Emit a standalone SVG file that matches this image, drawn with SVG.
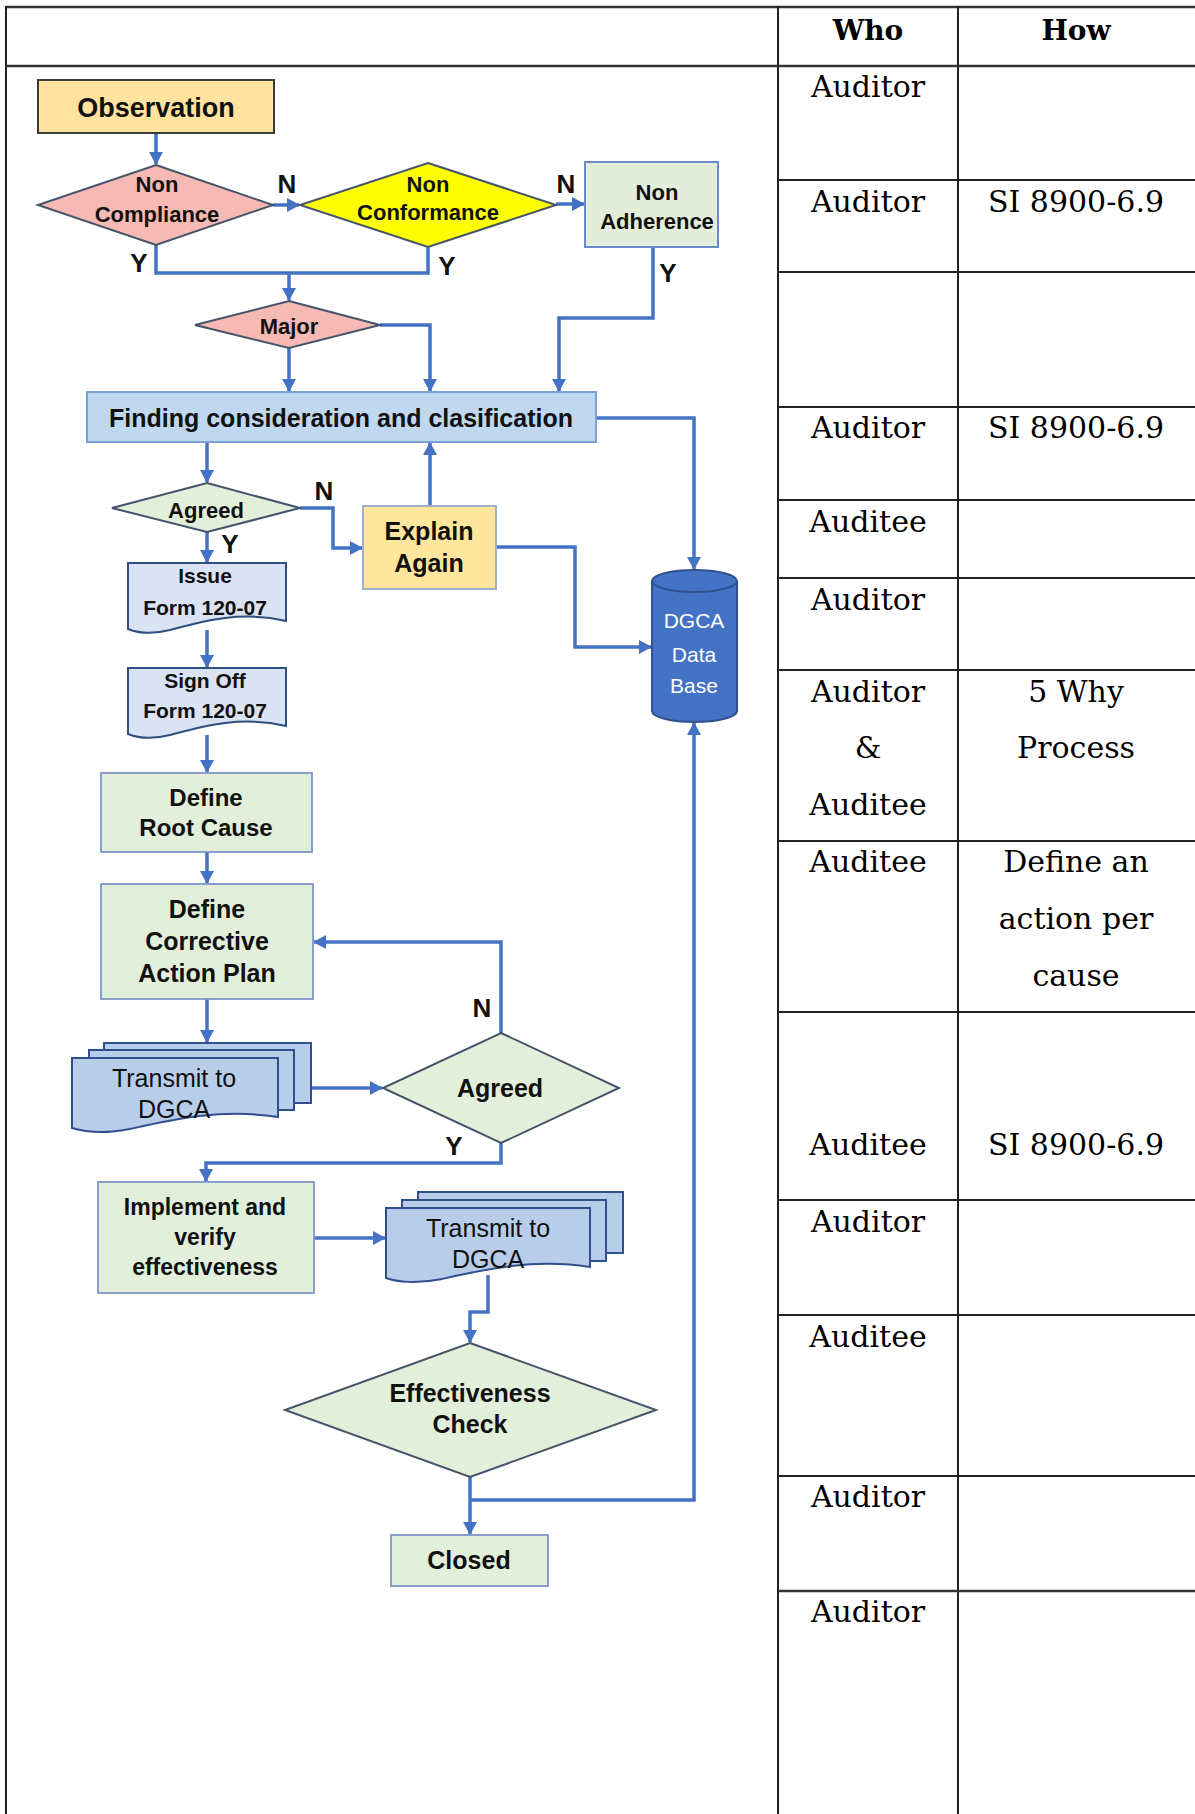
<svg xmlns="http://www.w3.org/2000/svg" width="1195" height="1814" viewBox="0 0 1195 1814">
<style>
.tl{stroke:#222;stroke-width:2;fill:none}
.tl2{stroke:#333;stroke-width:2.5;fill:none}
.tc{font-family:"DejaVu Serif","Liberation Serif",serif;font-size:30px;fill:#000;text-anchor:middle}
.th{font-family:"DejaVu Serif","Liberation Serif",serif;font-size:28px;font-weight:bold;fill:#000;text-anchor:middle}
.fb{font-family:"Liberation Sans",Arial,sans-serif;font-weight:bold;fill:#111;text-anchor:middle}
.fr{font-family:"Liberation Sans",Arial,sans-serif;fill:#111;text-anchor:middle}
.lbl{font-family:"Liberation Sans",Arial,sans-serif;font-weight:bold;font-size:26px;fill:#111;text-anchor:middle}
.dia{stroke:#44546A;stroke-width:2}
.grn{fill:#E2EFDA;stroke:#7F96C8;stroke-width:1.8}
.doc{fill:#DAE3F3;stroke:#2F4F7F;stroke-width:2}
.mdoc{fill:#B8CDEA;stroke:#2F4F8F;stroke-width:2}
.cn{fill:none;stroke:#4472C4;stroke-width:3.5}
.ar{marker-end:url(#ah)}
</style>
<defs>
<marker id="ah" markerUnits="userSpaceOnUse" markerWidth="13" markerHeight="14" refX="12" refY="7" orient="auto">
<path d="M0,0 L13,7 L0,14 z" fill="#4472C4"/>
</marker>
</defs>
<rect x="0" y="0" width="1195" height="1814" fill="#fff"/>

<g id="table">
<line class="tl2" x1="6" y1="7" x2="1195" y2="7"/>
<line class="tl2" x1="6" y1="66" x2="1195" y2="66"/>
<line class="tl" x1="6" y1="6" x2="6" y2="1814"/>
<line class="tl" x1="778" y1="6" x2="778" y2="1814"/>
<line class="tl" x1="958" y1="6" x2="958" y2="1814"/>
<line class="tl" x1="778" y1="180" x2="1195" y2="180"/>
<line class="tl" x1="778" y1="272" x2="1195" y2="272"/>
<line class="tl" x1="778" y1="407" x2="1195" y2="407"/>
<line class="tl" x1="778" y1="500" x2="1195" y2="500"/>
<line class="tl" x1="778" y1="578" x2="1195" y2="578"/>
<line class="tl" x1="778" y1="670" x2="1195" y2="670"/>
<line class="tl" x1="778" y1="841" x2="1195" y2="841"/>
<line class="tl" x1="778" y1="1012" x2="1195" y2="1012"/>
<line class="tl" x1="778" y1="1200" x2="1195" y2="1200"/>
<line class="tl" x1="778" y1="1315" x2="1195" y2="1315"/>
<line class="tl" x1="778" y1="1476" x2="1195" y2="1476"/>
<line class="tl2" x1="778" y1="1591" x2="1195" y2="1591"/>
<text class="th" x="868" y="40">Who</text>
<text class="th" x="1076" y="40">How</text>
<text class="tc" x="868" y="97">Auditor</text>
<text class="tc" x="868" y="212">Auditor</text>
<text class="tc" x="1076" y="212">SI 8900-6.9</text>
<text class="tc" x="868" y="438">Auditor</text>
<text class="tc" x="1076" y="438">SI 8900-6.9</text>
<text class="tc" x="868" y="532">Auditee</text>
<text class="tc" x="868" y="610">Auditor</text>
<text class="tc" x="868" y="702">Auditor</text>
<text class="tc" x="868" y="758">&amp;</text>
<text class="tc" x="868" y="815">Auditee</text>
<text class="tc" x="1076" y="702">5 Why</text>
<text class="tc" x="1076" y="758">Process</text>
<text class="tc" x="868" y="872">Auditee</text>
<text class="tc" x="1076" y="872">Define an</text>
<text class="tc" x="1076" y="929">action per</text>
<text class="tc" x="1076" y="986">cause</text>
<text class="tc" x="868" y="1155">Auditee</text>
<text class="tc" x="1076" y="1155">SI 8900-6.9</text>
<text class="tc" x="868" y="1232">Auditor</text>
<text class="tc" x="868" y="1347">Auditee</text>
<text class="tc" x="868" y="1507">Auditor</text>
<text class="tc" x="868" y="1622">Auditor</text>
</g>

<g id="connectors">
<path class="cn ar" d="M156,133 V164"/>
<path class="cn ar" d="M273,205 H299"/>
<path class="cn ar" d="M556,204 H584"/>
<path class="cn" d="M156,245 V273 H428 V247"/>
<path class="cn ar" d="M289,273 V300"/>
<path class="cn ar" d="M289,348 V391"/>
<path class="cn ar" d="M380,325 H430 V391"/>
<path class="cn ar" d="M653,247 V318 H559 V391"/>
<path class="cn ar" d="M596,418 H694 V569"/>
<path class="cn ar" d="M207,442 V482"/>
<path class="cn ar" d="M300,508 H333 V548 H362"/>
<path class="cn ar" d="M430,506 V443"/>
<path class="cn ar" d="M496,547 H575 V647 H651"/>
<path class="cn ar" d="M207,532 V562"/>
<path class="cn ar" d="M207,630 V667"/>
<path class="cn ar" d="M207,735 V772"/>
<path class="cn ar" d="M207,852 V883"/>
<path class="cn ar" d="M207,999 V1042"/>
<path class="cn ar" d="M311,1088 H382"/>
<path class="cn ar" d="M501,1033 V942 H314"/>
<path class="cn ar" d="M501,1143 V1163 H206 V1181"/>
<path class="cn ar" d="M314,1238 H385"/>
<path class="cn ar" d="M488,1275 V1312 H470 V1342"/>
<path class="cn ar" d="M470,1477 V1534"/>
<path class="cn ar" d="M470,1500 H694 V723"/>
<text class="lbl" x="287" y="193">N</text>
<text class="lbl" x="566" y="193">N</text>
<text class="lbl" x="139" y="272">Y</text>
<text class="lbl" x="447" y="275">Y</text>
<text class="lbl" x="668" y="282">Y</text>
<text class="lbl" x="324" y="500" font-size="24">N</text>
<text class="lbl" x="230" y="553" font-size="24">Y</text>
<text class="lbl" x="482" y="1017">N</text>
<text class="lbl" x="454" y="1155">Y</text>
</g>

<g id="observation">
<rect x="38" y="80" width="236" height="53" fill="#FFE39F" stroke="#3A3A3A" stroke-width="2"/>
<text class="fb" x="156" y="117" font-size="27">Observation</text>
</g>
<g id="non-compliance">
<polygon class="dia" points="156,165 273,205 156,245 38,205" fill="#F6B9B3"/>
<text class="fb" x="157" y="192" font-size="22">Non</text>
<text class="fb" x="157" y="222" font-size="22">Compliance</text>
</g>
<g id="non-conformance">
<polygon class="dia" points="428,163 556,205 428,247 300,205" fill="#FFFF00"/>
<text class="fb" x="428" y="192" font-size="22">Non</text>
<text class="fb" x="428" y="220" font-size="22">Conformance</text>
</g>
<g id="non-adherence">
<rect x="585" y="162" width="133" height="85" fill="#E2EDDA" stroke="#6A8BC8" stroke-width="2"/>
<text class="fb" x="657" y="200" font-size="22">Non</text>
<text class="fb" x="657" y="229" font-size="22">Adherence</text>
</g>
<g id="major">
<polygon class="dia" points="289,301 380,325 289,348 195,325" fill="#F6B9B3"/>
<text class="fb" x="289" y="334" font-size="22">Major</text>
</g>
<g id="finding">
<rect x="87" y="392" width="509" height="50" fill="#C0D7F0" stroke="#7C9FD6" stroke-width="2"/>
<text class="fb" x="341" y="427" font-size="25">Finding consideration and clasification</text>
</g>
<g id="agreed-1">
<polygon class="dia" points="207,483 300,508 207,532 112,508" fill="#E2EFDA"/>
<text class="fb" x="206" y="518" font-size="22">Agreed</text>
</g>
<g id="explain-again">
<rect x="363" y="506" width="133" height="83" fill="#FFE69C" stroke="#9FB0C8" stroke-width="2"/>
<text class="fb" x="429" y="540" font-size="25">Explain</text>
<text class="fb" x="429" y="572" font-size="25">Again</text>
</g>
<g id="dgca-database">
<path d="M652,581 A42.5,11 0 0 1 737,581 V711 A42.5,11 0 0 1 652,711 Z" fill="#4472C4" stroke="#2F528F" stroke-width="2"/>
<path d="M652,581 A42.5,11 0 0 0 737,581" fill="none" stroke="#2F528F" stroke-width="2"/>
<text class="fr" x="694" y="628" font-size="21" fill="#fff" style="fill:#fff">DGCA</text>
<text class="fr" x="694" y="662" font-size="21" style="fill:#fff">Data</text>
<text class="fr" x="694" y="693" font-size="21" style="fill:#fff">Base</text>
</g>
<g id="issue-form">
<path class="doc" d="M128,563 H286 V621 C240,610 200,622 170,630 C150,635 138,633 128,629 Z"/>
<text class="fb" x="205" y="583" font-size="21">Issue</text>
<text class="fb" x="205" y="615" font-size="21">Form 120-07</text>
</g>
<g id="sign-off">
<path class="doc" d="M128,668 H286 V726 C240,715 200,727 170,735 C150,740 138,738 128,734 Z"/>
<text class="fb" x="205" y="688" font-size="21">Sign Off</text>
<text class="fb" x="205" y="718" font-size="21">Form 120-07</text>
</g>
<g id="root-cause">
<rect class="grn" x="101" y="773" width="211" height="79"/>
<text class="fb" x="206" y="806" font-size="24">Define</text>
<text class="fb" x="206" y="836" font-size="24">Root Cause</text>
</g>
<g id="corrective-plan">
<rect class="grn" x="101" y="884" width="212" height="115"/>
<text class="fb" x="207" y="918" font-size="25">Define</text>
<text class="fb" x="207" y="950" font-size="25">Corrective</text>
<text class="fb" x="207" y="982" font-size="25">Action Plan</text>
</g>
<g id="transmit-1">
<rect class="mdoc" x="104" y="1043" width="207" height="60"/>
<rect class="mdoc" x="89" y="1050" width="205" height="60"/>
<path class="mdoc" d="M72,1058 H278 V1117 C220,1108 170,1120 130,1129 C105,1134 85,1132 72,1128 Z"/>
<text class="fr" x="174" y="1087" font-size="25">Transmit to</text>
<text class="fr" x="174" y="1118" font-size="25">DGCA</text>
</g>
<g id="agreed-2">
<polygon class="dia" points="501,1033 619,1088 501,1143 383,1088" fill="#E2EFDA"/>
<text class="fb" x="500" y="1097" font-size="25">Agreed</text>
</g>
<g id="implement">
<rect class="grn" x="98" y="1182" width="216" height="111"/>
<text class="fb" x="205" y="1215" font-size="23">Implement and</text>
<text class="fb" x="205" y="1245" font-size="23">verify</text>
<text class="fb" x="205" y="1275" font-size="23">effectiveness</text>
</g>
<g id="transmit-2">
<rect class="mdoc" x="418" y="1192" width="205" height="61"/>
<rect class="mdoc" x="402" y="1200" width="204" height="61"/>
<path class="mdoc" d="M386,1208 H590 V1267 C532,1258 482,1270 442,1279 C417,1284 397,1282 386,1278 Z"/>
<text class="fr" x="488" y="1237" font-size="25">Transmit to</text>
<text class="fr" x="488" y="1268" font-size="25">DGCA</text>
</g>
<g id="effectiveness-check">
<polygon class="dia" points="470,1343 656,1410 470,1477 285,1410" fill="#E2EFDA"/>
<text class="fb" x="470" y="1402" font-size="25">Effectiveness</text>
<text class="fb" x="470" y="1433" font-size="25">Check</text>
</g>
<g id="closed">
<rect class="grn" x="391" y="1535" width="157" height="51"/>
<text class="fb" x="469" y="1569" font-size="25">Closed</text>
</g>
</svg>
